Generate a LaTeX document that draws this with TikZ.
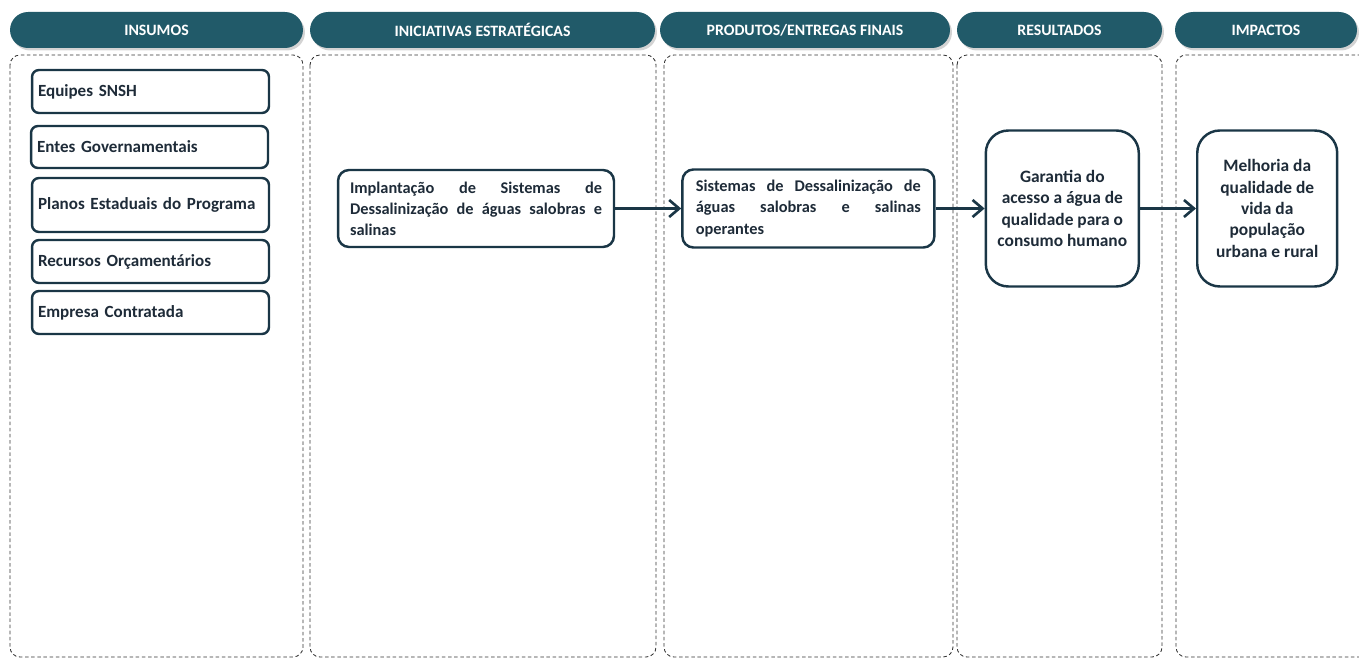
\documentclass[tikz,border=0pt]{standalone}
\usepackage{fontspec}
\setmainfont{Carlito}
\usetikzlibrary{positioning}
\usetikzlibrary{arrows.meta}
\usetikzlibrary{shadows}
\definecolor{cabec}{HTML}{215A69}
\definecolor{contorno}{HTML}{1A3646}
\definecolor{texto}{HTML}{1E2B38}
\tikzset{
  cabecalho/.style={fill=cabec, text=white, rounded corners=0.36cm, minimum height=0.72cm,
    font=\fontsize{9}{11}\selectfont\bfseries, inner sep=0pt,
    drop shadow={opacity=0.35, shadow xshift=0.4mm, shadow yshift=-0.5mm}},
  painel/.style={draw=black!80, line width=0.5pt, dash pattern=on 2pt off 1.5pt, rounded corners=0.2cm},
  insumo/.style={draw=contorno, fill=white, line width=1.4pt, rounded corners=0.14cm, text=texto,
    minimum width=4.74cm, inner xsep=0.12cm, text width=4.5cm, align=left,
    font=\fontsize{9.7}{12}\selectfont\bfseries},
  caixa/.style={draw=contorno, fill=white, line width=1.4pt, text=texto,
    font=\fontsize{9.3}{12}\selectfont\bfseries},
  seta/.style={draw=contorno, line width=1.5pt, -{Straight Barb[length=2mm,width=3.4mm,line width=1.5pt]}}
}
\begin{document}
\begin{tikzpicture}[x=0.02cm, y=-0.02cm]
\useasboundingbox (0,0) rectangle (1359,658);

% cabecalhos
\node (hInsumos) [cabecalho, minimum width=5.86cm] at (156.5,30) {INSUMOS};
\node (hIniciativas) [cabecalho, minimum width=6.9cm] at (482.5,30) {INICIATIVAS ESTRATÉGICAS};
\node (hProdutos) [cabecalho, minimum width=5.8cm] at (805,30) {PRODUTOS/ENTREGAS FINAIS};
\node (hResultados) [cabecalho, minimum width=4.1cm] at (1059.5,30) {RESULTADOS};
\node (hImpactos) [cabecalho, minimum width=3.64cm] at (1266,30) {IMPACTOS};

% paineis tracejados
\draw[painel] (10,55) rectangle (303,657);
\draw[painel] (310,55) rectangle (656,657);
\draw[painel] (664,55) rectangle (953,657);
\draw[painel] (957,55) rectangle (1162,657);
\draw[painel] (1176,55) rectangle (1370,657);

% insumos
\node (equipes) [insumo, minimum height=0.86cm] at (150.5,91.5) {Equipes SNSH};
\node (entes) [insumo, minimum height=0.84cm] at (149.5,147) {Entes Governamentais};
\node (planos) [insumo, minimum height=1.08cm] at (150.5,205) {Planos Estaduais do Programa};
\node (recursos) [insumo, minimum height=0.86cm] at (150.5,261.5) {Recursos Orçamentários};
\node (empresa) [insumo, minimum height=0.86cm] at (150.5,312.5) {Empresa Contratada};

% cadeia
\node (iniciativa) [caixa, rounded corners=0.22cm, minimum width=5.52cm, minimum height=1.54cm,
  text width=5.04cm, align=justify] at (476,208.5)
  {Implantação de Sistemas de\linebreak Dessalinização de águas salobras e\linebreak salinas};
\node (produto) [caixa, rounded corners=0.22cm, minimum width=5.04cm, minimum height=1.56cm,
  text width=4.5cm, align=justify, right=1.32cm of iniciativa]
  {Sistemas de Dessalinização de\linebreak águas salobras e salinas\linebreak operantes};
\node (resultado) [caixa, rounded corners=0.45cm, minimum width=3.06cm, minimum height=3.12cm,
  font=\fontsize{9.9}{12.2}\selectfont\bfseries, align=center, right=0.98cm of produto]
  {Garantia do\\acesso a água de\\qualidade para o\\consumo humano};
\node (impacto) [caixa, rounded corners=0.45cm, minimum width=2.8cm, minimum height=3.12cm,
  font=\fontsize{9.9}{12.2}\selectfont\bfseries, align=center, right=1.12cm of resultado]
  {Melhoria da\\qualidade de\\vida da\\população\\urbana e rural};

\draw[seta] (iniciativa) -- (produto);
\draw[seta] (produto) -- (resultado);
\draw[seta] (resultado) -- (impacto);
\end{tikzpicture}
\end{document}
